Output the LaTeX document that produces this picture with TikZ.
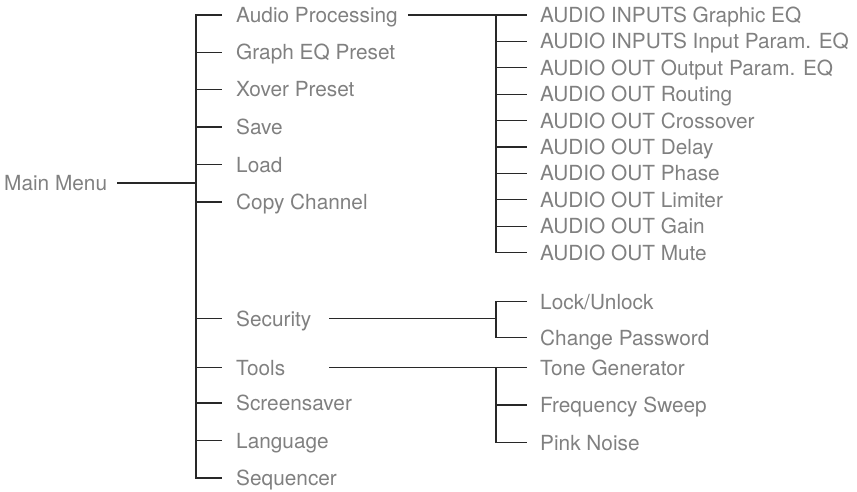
\documentclass[tikz,border=0pt]{standalone}
\usepackage{fontspec}
\setmainfont{TeX Gyre Heros}
\usepackage{xcolor}
\usepackage{tikz}
\usetikzlibrary{positioning, calc}

\definecolor{menutext}{RGB}{128,128,128}
\definecolor{menuline}{RGB}{40,40,40}

\begin{document}
\begin{tikzpicture}[
    x=1pt, y=-1pt,
    entry/.style={anchor=west, inner sep=0pt, text height=15pt, text depth=0pt, text=menutext, font=\fontsize{20.8}{24}\selectfont},
    wire/.style={draw=menuline, line width=1.3pt},
]
    \useasboundingbox (0,0) rectangle (857,492);

    \coordinate (trunk) at (196, 0);
    \coordinate (lead) at (329, 0);
    \coordinate (branch) at (496, 0);

    \node[entry] (main) at (4, 183) {Main Menu};

    \node[entry] (audio) at (236, 15) {Audio Processing};
    \node[entry] (grapheq) at (236, 52.5) {Graph EQ Preset};
    \node[entry] (xover) at (236, 89.5) {Xover Preset};
    \node[entry] (save) at (236, 127) {Save};
    \node[entry] (load) at (236, 164.5) {Load};
    \node[entry] (copy) at (236, 202) {Copy Channel};
    \node[entry] (security) at (236, 318.5) {Security};
    \node[entry] (tools) at (236, 367.5) {Tools};
    \node[entry] (screen) at (236, 403) {Screensaver};
    \node[entry] (lang) at (236, 440.5) {Language};
    \node[entry] (seq) at (236, 478) {Sequencer};

    \node[entry] (a1) at (540, 15) {AUDIO INPUTS Graphic EQ};
    \node[entry] (a2) at (540, 41.4) {AUDIO INPUTS Input Param. EQ};
    \node[entry] (a3) at (540, 67.8) {AUDIO OUT Output Param. EQ};
    \node[entry] (a4) at (540, 94.2) {AUDIO OUT Routing};
    \node[entry] (a5) at (540, 120.6) {AUDIO OUT Crossover};
    \node[entry] (a6) at (540, 147) {AUDIO OUT Delay};
    \node[entry] (a7) at (540, 173.4) {AUDIO OUT Phase};
    \node[entry] (a8) at (540, 199.8) {AUDIO OUT Limiter};
    \node[entry] (a9) at (540, 226.2) {AUDIO OUT Gain};
    \node[entry] (a10) at (540, 252.6) {AUDIO OUT Mute};

    \node[entry] (lock) at (540, 301.5) {Lock/Unlock};
    \node[entry] (change) at (540, 337.5) {Change Password};

    \node[entry] (tone) at (540, 367.5) {Tone Generator};
    \node[entry] (freq) at (540, 405) {Frequency Sweep};
    \node[entry] (pink) at (540, 442.5) {Pink Noise};

    % main trunk
    \draw[wire] ([xshift=10pt]main.east) -- (main.east -| trunk);
    \draw[wire] ([xshift=-14pt]audio.west) -- (audio.west -| trunk) -- (seq.west -| trunk) -- ([xshift=-14pt]seq.west);
    \draw[wire] (grapheq.west -| trunk) -- ([xshift=-14pt]grapheq.west);
    \draw[wire] (xover.west -| trunk) -- ([xshift=-14pt]xover.west);
    \draw[wire] (save.west -| trunk) -- ([xshift=-14pt]save.west);
    \draw[wire] (load.west -| trunk) -- ([xshift=-14pt]load.west);
    \draw[wire] (copy.west -| trunk) -- ([xshift=-14pt]copy.west);
    \draw[wire] (security.west -| trunk) -- ([xshift=-14pt]security.west);
    \draw[wire] (tools.west -| trunk) -- ([xshift=-14pt]tools.west);
    \draw[wire] (screen.west -| trunk) -- ([xshift=-14pt]screen.west);
    \draw[wire] (lang.west -| trunk) -- ([xshift=-14pt]lang.west);

    % audio processing
    \draw[wire] ([xshift=10pt]audio.east) -- ([xshift=-13pt]a1.west);
    \draw[wire] (a1.west -| branch) -- (a10.west -| branch) -- ([xshift=-13pt]a10.west);
    \draw[wire] (a2.west -| branch) -- ([xshift=-13pt]a2.west);
    \draw[wire] (a3.west -| branch) -- ([xshift=-13pt]a3.west);
    \draw[wire] (a4.west -| branch) -- ([xshift=-13pt]a4.west);
    \draw[wire] (a5.west -| branch) -- ([xshift=-13pt]a5.west);
    \draw[wire] (a6.west -| branch) -- ([xshift=-13pt]a6.west);
    \draw[wire] (a7.west -| branch) -- ([xshift=-13pt]a7.west);
    \draw[wire] (a8.west -| branch) -- ([xshift=-13pt]a8.west);
    \draw[wire] (a9.west -| branch) -- ([xshift=-13pt]a9.west);

    % security
    \draw[wire] (security.east -| lead) -- (security.east -| branch);
    \draw[wire] ([xshift=-13pt]lock.west) -- (lock.west -| branch) -- (change.west -| branch) -- ([xshift=-13pt]change.west);

    % tools
    \draw[wire] (tools.east -| lead) -- ([xshift=-13pt]tone.west);
    \draw[wire] (tone.west -| branch) -- (pink.west -| branch) -- ([xshift=-13pt]pink.west);
    \draw[wire] (freq.west -| branch) -- ([xshift=-13pt]freq.west);
\end{tikzpicture}
\end{document}
